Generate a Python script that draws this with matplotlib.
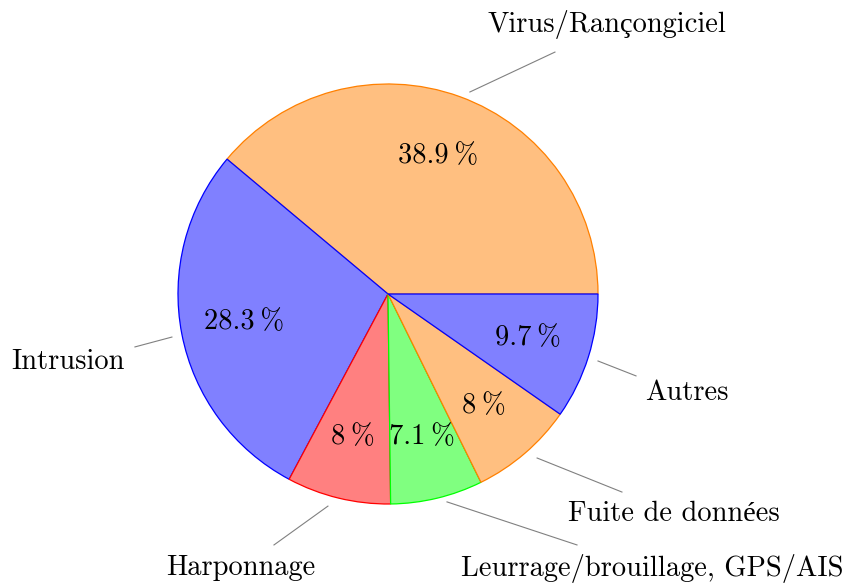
import numpy as np
import matplotlib
matplotlib.use("Agg")
import matplotlib.pyplot as plt

plt.rcParams['font.family'] = ['cmr10', 'Liberation Serif']

# Données
categories = ['Virus/Rançongiciel', 'Intrusion', 'Harponnage',
              'Leurrage/brouillage, GPS/AIS', 'Fuite de données', 'Autres']
valeurs = [38.9, 28.3, 8, 7.1, 8, 9.7]
pct_labels = ['38.9\u2009%', '28.3\u2009%', '8\u2009%', '7.1\u2009%', '8\u2009%', '9.7\u2009%']

# Couleurs (remplissage / bord)
fill = ['#ffbf80', '#8080ff', '#ff8080', '#80ff80', '#ffbf80', '#8080ff']
edge = ['#ff8000', '#0000ff', '#ff0000', '#00ff00', '#ff8000', '#0000ff']

# Position des étiquettes (unités du rayon) : début du trait, fin du trait, texte
pins = [((0.39, 0.962), (0.795, 1.152), (1.043, 1.281)),
        ((-1.029, -0.205), (-1.205, -0.252), (-1.524, -0.324)),
        ((-0.286, -1.010), (-0.543, -1.195), (-0.70, -1.305)),
        ((0.281, -0.990), (0.90, -1.195), (1.257, -1.305)),
        ((0.710, -0.781), (1.114, -0.943), (1.362, -1.048)),
        ((1.0, -0.319), (1.181, -0.390), (1.424, -0.471))]

fig = plt.figure(figsize=(8.49, 5.86), dpi=100)
ax = fig.add_axes([0, 0, 1, 1])

wedges, _ = ax.pie(valeurs, colors=fill, startangle=0, counterclock=True,
                   radius=1.0, normalize=True)
for w, ec in zip(wedges, edge):
    w.set_edgecolor(ec)
    w.set_linewidth(0.9)

# Pourcentages à l'intérieur
angles = np.cumsum([0] + valeurs)
for i, lab in enumerate(pct_labels):
    mid = np.deg2rad((angles[i] + angles[i + 1]) / 2 * 3.6)
    ax.text(0.7 * np.cos(mid), 0.7 * np.sin(mid), lab, ha='center', va='center',
            fontsize=20.5)

# Étiquettes extérieures
for cat, (p0, p1, pt) in zip(categories, pins):
    ax.plot([p0[0], p1[0]], [p0[1], p1[1]], color='gray', lw=0.8)
    ax.text(pt[0], pt[1], cat, ha='center', va='center', fontsize=20.5)

R = 210
ax.set_xlim(-388 / R, (849 - 388) / R)
ax.set_ylim(-(586 - 294) / R, 294 / R)
ax.set_aspect('auto')
ax.axis('off')

plt.savefig("out.png", dpi=100)
